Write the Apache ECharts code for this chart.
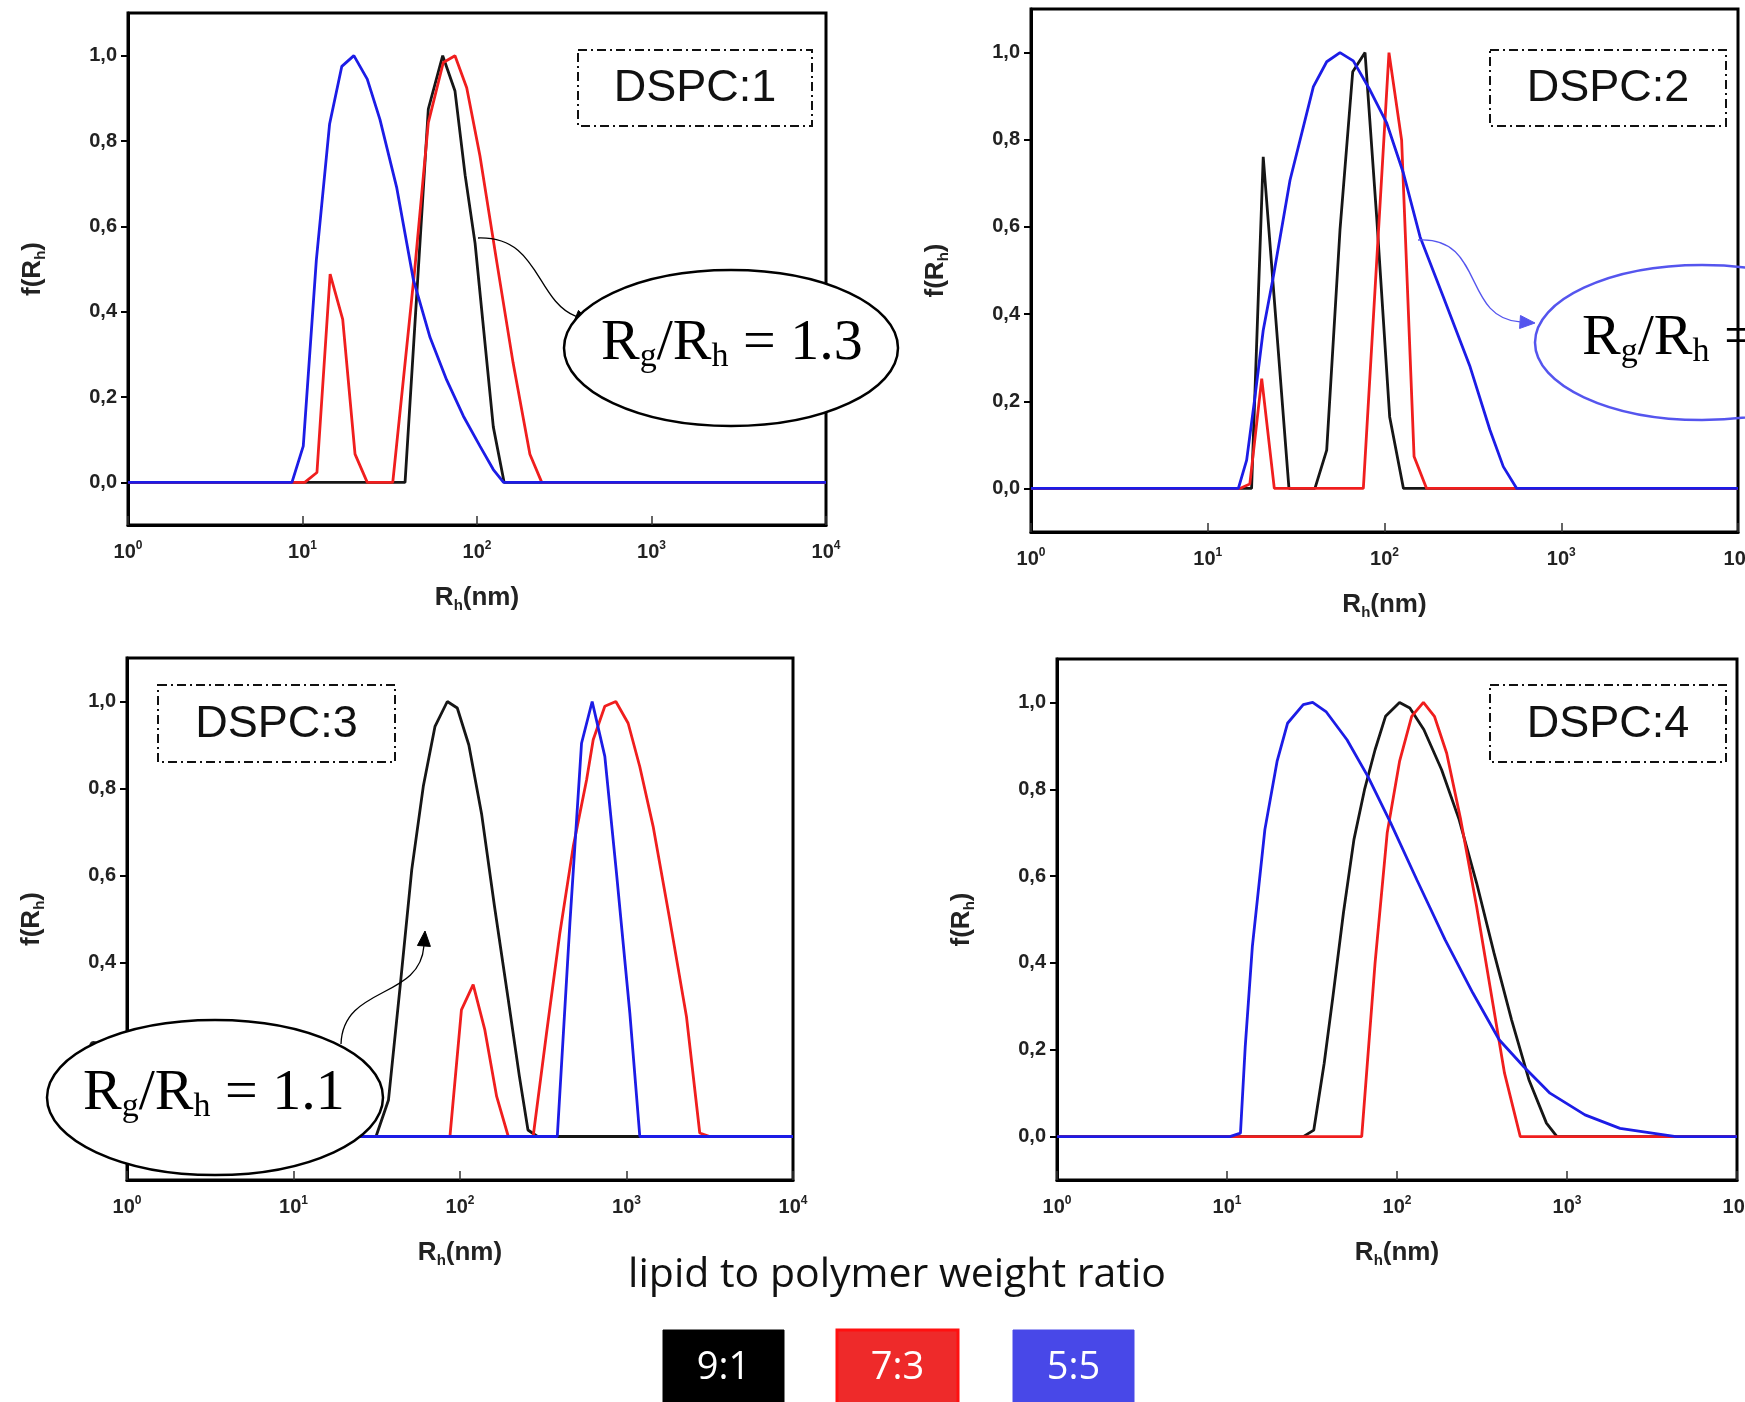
<!DOCTYPE html>
<html><head><meta charset="utf-8">
<script src="https://cdn.jsdelivr.net/npm/echarts@6/dist/echarts.min.js"></script>
<style>html,body{margin:0;padding:0;background:#fff;overflow:hidden}#c{width:1745px;height:1402px}</style>
</head><body><div id="c"></div>
<script>
// ---------- data (R_h in nm, f(R_h)) ----------
const xTicks = [1, 10, 100, 1000, 10000];
const yTicks = [0, 0.2, 0.4, 0.6, 0.8, 1.0];
const panelTitles = ['DSPC:1', 'DSPC:2', 'DSPC:3', 'DSPC:4'];
const ratioLabels = ['9:1', '7:3', '5:5'];
const ratioNames = ['lipid to polymer weight ratio'];
const ellipseTexts = ['1.3', '', '1.1'];

const p1Black = [[1,0],[38.7,0],[52.6,0.875],[63.6,1.0],[74.8,0.917],[85.5,0.72],[97.5,0.56],[124,0.13],[143,0],[10000,0]];
const p1Red   = [[1,0],[10.3,0],[12.1,0.023],[14.4,0.488],[17.0,0.382],[20.0,0.066],[23.5,0],[32.9,0],[44,0.5],[52.6,0.843],[64.1,0.984],[74.8,1.0],[87.3,0.925],[104,0.765],[130,0.515],[161,0.28],[201,0.066],[235,0],[10000,0]];
const p1Blue  = [[1,0],[8.7,0],[10.1,0.085],[12.0,0.52],[14.3,0.84],[16.8,0.975],[19.7,1.0],[23.5,0.945],[27.8,0.85],[34.7,0.69],[43.2,0.475],[53.8,0.34],[67,0.24],[83.6,0.155],[104,0.085],[124,0.03],[142,0],[10000,0]];

const p2Black = [[1,0],[17.7,0],[20.6,0.761],[28.8,0],[40.4,0],[47.1,0.088],[56,0.593],[66.1,0.956],[77.6,1.0],[90.3,0.623],[107,0.164],[128,0],[10000,0]];
const p2Red   = [[1,0],[15.2,0],[17.3,0.01],[20.2,0.252],[23.8,0],[75.9,0],[106,1.0],[125,0.799],[147,0.073],[173,0],[10000,0]];
const p2Blue  = [[1,0],[14.9,0],[16.6,0.065],[18.5,0.21],[20.6,0.363],[23.5,0.486],[29.2,0.707],[39.6,0.922],[47.1,0.979],[56.0,1.0],[66.6,0.981],[82.8,0.914],[103,0.838],[128,0.723],[159,0.577],[215,0.44],[305,0.279],[395,0.134],[470,0.05],[560,0],[10000,0]];

const p3Black = [[1,0],[31.3,0],[37.2,0.084],[43.7,0.345],[51.3,0.613],[60.2,0.805],[70.8,0.943],[83.9,1.0],[96.3,0.985],[113,0.9],[135,0.74],[161,0.53],[194,0.32],[227,0.14],[256,0.015],[292,0],[10000,0]];
const p3Red   = [[1,0],[87,0],[102,0.291],[120,0.349],[141,0.245],[166,0.092],[195,0],[275,0],[331,0.238],[398,0.468],[479,0.667],[576,0.82],[631,0.912],[741,0.989],[863,1.0],[1023,0.95],[1202,0.85],[1445,0.713],[1820,0.498],[2291,0.276],[2754,0.008],[3162,0],[10000,0]];
const p3Blue  = [[1,0],[384,0],[457,0.49],[537,0.904],[622,1.0],[741,0.874],[871,0.605],[1047,0.284],[1202,0],[10000,0]];

const p4Black = [[1,0],[28.1,0],[32.4,0.015],[37.3,0.169],[42.0,0.323],[48.4,0.515],[55.8,0.684],[64.4,0.799],[74.3,0.891],[85.6,0.968],[103.5,1.0],[119,0.987],[144,0.937],[183,0.845],[232,0.73],[294,0.584],[372,0.423],[472,0.269],[597,0.131],[757,0.031],[873,0],[10000,0]];
const p4Red   = [[1,0],[62,0],[74.3,0.40],[87.6,0.70],[103.5,0.864],[122,0.968],[143,1.0],[166,0.968],[196,0.883],[237,0.73],[294,0.53],[355,0.338],[429,0.146],[531,0],[10000,0]];
const p4Blue  = [[1,0],[10.4,0],[12.0,0.008],[12.8,0.207],[14.1,0.438],[16.7,0.707],[19.7,0.864],[22.7,0.952],[28.1,0.995],[31.9,1.0],[38.2,0.979],[50.8,0.914],[67.5,0.829],[91.9,0.722],[131,0.591],[192,0.453],[280,0.33],[399,0.223],[557,0.161],[794,0.1],[1276,0.05],[2050,0.019],[4375,0],[10000,0]];

const panels = [[p1Black, p1Red, p1Blue],[p2Black, p2Red, p2Blue],[p3Black, p3Red, p3Blue],[p4Black, p4Red, p4Blue]];
const lineColors = ['#161616', '#f01e1e', '#1c1ce6'];
const boxColors = ['#000000', '#ee2a2a', '#4848e8'];

// ---------- layout ----------
const SANS = '"Liberation Sans", Arial, sans-serif';
const SERIF = '"Liberation Serif", "Times New Roman", serif';
const grids = [
  {left:128, top:13, width:698, height:512},
  {left:1031, top:9, width:707, height:523},
  {left:127, top:658, width:666, height:522},
  {left:1057, top:659, width:680, height:521}
];

const chart = echarts.init(document.getElementById('c'), null, {renderer:'canvas'});

const gridOpts = grids.map(g => Object.assign({show:true, borderColor:'#000', borderWidth:3, backgroundColor:'#fff', containLabel:false, outerBoundsMode:'none'}, g));

const xAxes = grids.map((g, i) => ({
  gridIndex:i, type:'log', logBase:10, min:1, max:10000,
  axisLine:{show:true, onZero:false, lineStyle:{color:'#000', width:3}},
  axisTick:{show:true, inside:true, length:9, customValues:xTicks, lineStyle:{color:'#333', width:1.5}},
  axisLabel:{show:true, customValues:xTicks, margin:15, hideOverlap:false,
    formatter: v => '{b|10}{s|' + Math.round(Math.log10(v)) + '}',
    rich:{
      b:{fontSize:20, fontWeight:'bold', color:'#222', fontFamily:SANS, lineHeight:24},
      s:{fontSize:12, fontWeight:'bold', color:'#222', fontFamily:SANS, lineHeight:10, verticalAlign:'top'}
    }},
  splitLine:{show:false}, minorTick:{show:false},
  name:'{a|R}{s|h}{a|(nm)}', nameLocation:'middle', nameGap:58,
  nameTextStyle:{rich:{
    a:{fontSize:26, fontWeight:'bold', color:'#222', fontFamily:SANS, lineHeight:30},
    s:{fontSize:15, fontWeight:'bold', color:'#222', fontFamily:SANS, lineHeight:12, verticalAlign:'bottom'}
  }}
}));

const yAxes = grids.map((g, i) => ({
  gridIndex:i, type:'value', min:-0.1, max:1.1,
  axisLine:{show:true, onZero:false, lineStyle:{color:'#000', width:3}},
  axisTick:{show:true, inside:false, length:7, customValues:yTicks, lineStyle:{color:'#000', width:2}},
  axisLabel:{show:true, customValues:yTicks, margin:11, fontSize:20, fontWeight:'bold', color:'#222', fontFamily:SANS,
    formatter: v => v.toFixed(1).replace('.', ',')},
  splitLine:{show:false},
  name:'{a|f(R}{s|h}{a|)}', nameLocation:'middle', nameRotate:90, nameGap:80,
  nameTextStyle:{rich:{
    a:{fontSize:26, fontWeight:'bold', color:'#222', fontFamily:SANS, lineHeight:30},
    s:{fontSize:15, fontWeight:'bold', color:'#222', fontFamily:SANS, lineHeight:12, verticalAlign:'bottom'}
  }}
}));

const series = [];
panels.forEach((set, i) => {
  set.forEach((data, j) => {
    series.push({
      type:'line', xAxisIndex:i, yAxisIndex:i, data:data,
      showSymbol:false, symbol:'none', smooth:false,
      lineStyle:{color:lineColors[j], width:2.8}, itemStyle:{color:lineColors[j]},
      z:2 + j, silent:true, animation:false
    });
  });
});

// ---------- annotations ----------
const graphic = [];
const dspcBoxes = [[578,50,234,76],[1490,50,236,76],[158,685,237,77],[1490,685,236,77]];
dspcBoxes.forEach((b, i) => {
  graphic.push({type:'rect', z:100, shape:{x:b[0], y:b[1], width:b[2], height:b[3]},
    style:{fill:'none', stroke:'#111', lineWidth:2, lineDash:[9,4,2,4]}});
  graphic.push({type:'text', z:101, x:b[0] + b[2]/2, y:b[1] + b[3]/2 + 1,
    style:{text:panelTitles[i], font:'45px "Liberation Sans", Arial, sans-serif', fill:'#111', align:'center', verticalAlign:'middle'}});
});

function arrow(p0, c1, c2, p3, color, lw) {
  const dx = p3[0] - c2[0], dy = p3[1] - c2[1];
  const L = Math.hypot(dx, dy), ux = dx / L, uy = dy / L;
  const len = 15, w = 6.5;
  const bx = p3[0] - ux * len, by = p3[1] - uy * len;
  graphic.push({type:'bezierCurve', z:102,
    shape:{x1:p0[0], y1:p0[1], cpx1:c1[0], cpy1:c1[1], cpx2:c2[0], cpy2:c2[1], x2:bx, y2:by},
    style:{stroke:color, lineWidth:lw, fill:null}});
  graphic.push({type:'polygon', z:102,
    shape:{points:[[p3[0], p3[1]], [bx - uy * w, by + ux * w], [bx + uy * w, by - ux * w]]},
    style:{fill:color, stroke:color, lineWidth:1}});
}

function rgText(x, y, val, color) {
  const t = '{a|R}{s|g}{a|/R}{s|h}{a| = ' + val + '}';
  graphic.push({type:'text', z:104, x:x, y:y,
    style:{text:t, align:'left', verticalAlign:'middle', fill:color,
      rich:{
        a:{fontSize:58, fontFamily:SERIF, fill:color, lineHeight:60},
        s:{fontSize:34, fontFamily:SERIF, fill:color, lineHeight:16, verticalAlign:'bottom'}
      }}});
}

// panel 1 annotation
arrow([478,238], [540,236], [535,300], [590,322], '#000', 1.3);
graphic.push({type:'ellipse', z:103, shape:{cx:731, cy:348, rx:167, ry:78}, style:{fill:'#fff', stroke:'#000', lineWidth:2.5}});
rgText(601, 344, ellipseTexts[0], '#000');

// panel 2 annotation
arrow([1418,240], [1485,236], [1462,318], [1535,323], '#5555ee', 1.3);
graphic.push({type:'ellipse', z:103, shape:{cx:1702, cy:342.5, rx:167, ry:77.5}, style:{fill:'none', stroke:'#5555ee', lineWidth:2.5}});
graphic.push({type:'text', z:104, x:1582, y:339,
  style:{text:'{a|R}{s|g}{a|/R}{s|h}{a| =}', align:'left', verticalAlign:'middle', fill:'#000',
    rich:{
      a:{fontSize:58, fontFamily:SERIF, fill:'#000', lineHeight:60},
      s:{fontSize:34, fontFamily:SERIF, fill:'#000', lineHeight:16, verticalAlign:'bottom'}
    }}});

// panel 3 annotation
arrow([341,1044], [343,985], [420,1000], [425,931], '#000', 1.3);
graphic.push({type:'ellipse', z:103, shape:{cx:215, cy:1097.5, rx:168, ry:77.5}, style:{fill:'#fff', stroke:'#000', lineWidth:2.5}});
rgText(83, 1094, ellipseTexts[2], '#000');

// bottom caption and ratio boxes
graphic.push({type:'text', z:100, x:897, y:1275,
  style:{text:ratioNames[0], font:'41px "Open Sans", "Noto Sans", sans-serif', fill:'#111', align:'center', verticalAlign:'middle'}});
const boxX = [663, 837, 1013];
ratioLabels.forEach((lab, j) => {
  graphic.push({type:'rect', z:100, shape:{x:boxX[j], y:1330, width:121, height:80},
    style:{fill:boxColors[j], stroke: j === 1 ? '#ff1010' : boxColors[j], lineWidth: j === 1 ? 3 : 1}});
  graphic.push({type:'text', z:101, x:boxX[j] + 60.5, y:1368,
    style:{text:lab, font:'38px "Open Sans", "Noto Sans", sans-serif', fill:'#fff', align:'center', verticalAlign:'middle'}});
});

chart.setOption({
  animation:false,
  backgroundColor:'#fff',
  grid:gridOpts,
  xAxis:xAxes,
  yAxis:yAxes,
  series:series,
  graphic:graphic
});
</script>
</body></html>
